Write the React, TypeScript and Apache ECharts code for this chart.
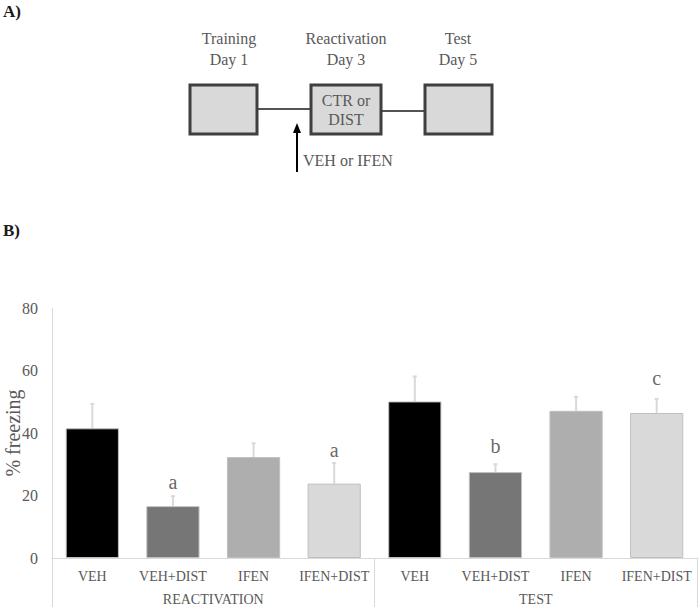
import React, { useEffect, useRef } from "react";
import * as echarts from "echarts";

// ---- data ----
const categories = ["VEH", "VEH+DIST", "IFEN", "IFEN+DIST", "VEH", "VEH+DIST", "IFEN", "IFEN+DIST"];
const groups = ["REACTIVATION", "TEST"];
const freezing = [41.5, 16.6, 32.3, 23.8, 50.1, 27.5, 47.1, 46.4];
const sem = [7.8, 3.2, 4.4, 6.6, 8.0, 2.5, 4.5, 4.5];
const barColors = ["#000000", "#767676", "#aeaeae", "#d9d9d9", "#000000", "#767676", "#aeaeae", "#d9d9d9"];
// significance letters: [category index, label y-value, letter]
const letterIdx = [1, 3, 5, 7];
const letterY = [24.3, 34.6, 36.0, 57.6];
const letterText = ["a", "a", "b", "c"];
const yTicks = { min: 0, max: 80, interval: 20 };
const yTitle = "% freezing";

const SERIF = "'Liberation Serif', 'DejaVu Serif', serif";
const TXT = "#595959";

export default function App() {
  const ref = useRef<HTMLDivElement>(null);
  useEffect(() => {
    if (!ref.current) return;
    const chart = echarts.init(ref.current, null, { renderer: "svg" });
    const boxStyle = { fill: "#d9d9d9", stroke: "#3f3f3f", lineWidth: 3 };
    const diagText = (x: number, y: number, t: string, align = "center") => ({
      type: "text",
      x,
      y,
      style: { text: t, font: `16px ${SERIF}`, fill: TXT, align, verticalAlign: "middle" },
    });
    chart.setOption({
      animation: false,
      grid: { left: 52, right: 3, top: 308, bottom: 52, containLabel: false, outerBoundsMode: "none" },
      xAxis: [
        {
          type: "category",
          data: categories,
          axisLine: { show: true, lineStyle: { color: "#d9d9d9", width: 1 } },
          axisTick: { show: false },
          axisLabel: { color: TXT, fontFamily: SERIF, fontSize: 14, margin: 11, interval: 0 },
        },
        {
          type: "category",
          data: groups,
          position: "bottom",
          axisLine: { show: false },
          axisTick: { show: true, length: 49, lineStyle: { color: "#d9d9d9", width: 1 } },
          axisLabel: { color: TXT, fontFamily: SERIF, fontSize: 14, margin: 34, interval: 0 },
        },
      ],
      yAxis: {
        type: "value",
        ...yTicks,
        axisLine: { show: true, lineStyle: { color: "#d9d9d9", width: 1 } },
        axisTick: { show: false },
        splitLine: { show: false },
        axisLabel: { color: TXT, fontFamily: SERIF, fontSize: 16, margin: 14 },
      },
      series: [
        {
          type: "bar",
          barWidth: "66%",
          data: freezing.map((v, i) => ({
            value: v,
            itemStyle: { color: barColors[i], borderColor: "#bfbfbf", borderWidth: 1 },
          })),
        },
        {
          type: "custom",
          data: freezing.map((v, i) => [i, v, v + sem[i]]),
          renderItem: (params: any, api: any) => {
            const x = api.coord([api.value(0), api.value(1)])[0];
            const y0 = api.coord([api.value(0), api.value(1)])[1];
            const y1 = api.coord([api.value(0), api.value(2)])[1];
            const st = { stroke: "#d9d9d9", lineWidth: 2 };
            return {
              type: "group",
              children: [
                { type: "line", shape: { x1: x, y1: y0, x2: x, y2: y1 }, style: st },
                { type: "line", shape: { x1: x - 2, y1: y1, x2: x + 2, y2: y1 }, style: st },
              ],
            };
          },
          z: 1,
        },
        {
          type: "scatter",
          symbolSize: 0,
          data: letterIdx.map((c, i) => ({ value: [c, letterY[i]], name: letterText[i] })),
          label: {
            show: true,
            position: "inside",
            formatter: (p: any) => p.name,
            color: "#404040",
            fontFamily: SERIF,
            fontSize: 20,
          },
        },
      ],
      graphic: [
        { type: "text", x: 3, y: 11, style: { text: "A)", font: `bold 17px ${SERIF}`, fill: "#1a1a1a", verticalAlign: "middle" } },
        { type: "text", x: 3, y: 230, style: { text: "B)", font: `bold 17px ${SERIF}`, fill: "#1a1a1a", verticalAlign: "middle" } },
        {
          type: "text",
          x: 13,
          y: 433,
          rotation: Math.PI / 2,
          style: { text: yTitle, font: `20px ${SERIF}`, fill: TXT, align: "center", verticalAlign: "middle" },
        },
        diagText(229, 38, "Training"),
        diagText(229, 59, "Day 1"),
        diagText(346, 38, "Reactivation"),
        diagText(346, 59, "Day 3"),
        diagText(458, 38, "Test"),
        diagText(458, 59, "Day 5"),
        { type: "line", shape: { x1: 257, y1: 109, x2: 310, y2: 109 }, style: { stroke: "#1a1a1a", lineWidth: 1.5 } },
        { type: "line", shape: { x1: 381, y1: 111, x2: 424, y2: 111 }, style: { stroke: "#1a1a1a", lineWidth: 1.5 } },
        { type: "rect", shape: { x: 190, y: 85, width: 67, height: 49 }, style: boxStyle },
        { type: "rect", shape: { x: 311, y: 85, width: 70, height: 49 }, style: boxStyle },
        { type: "rect", shape: { x: 425, y: 85, width: 67, height: 49 }, style: boxStyle },
        diagText(346, 100, "CTR or"),
        diagText(346, 119, "DIST"),
        { type: "line", shape: { x1: 297, y1: 130, x2: 297, y2: 172 }, style: { stroke: "#000", lineWidth: 2 } },
        { type: "polygon", shape: { points: [[297, 123], [293, 133], [301, 133]] }, style: { fill: "#000" } },
        diagText(303, 160, "VEH or IFEN", "left"),
      ],
    });
    return () => chart.dispose();
  }, []);
  return <div ref={ref} style={{ width: 700, height: 610, position: "absolute", left: 0, top: 0 }} />;
}
